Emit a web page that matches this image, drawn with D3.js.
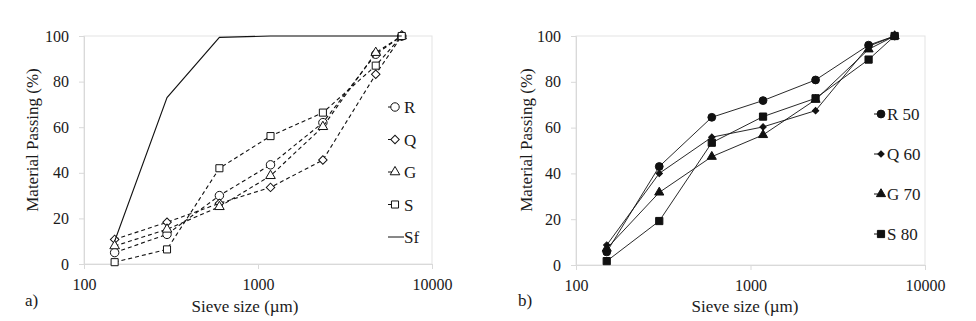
<!DOCTYPE html>
<html>
<head>
<meta charset="utf-8">
<script src="https://cdn.jsdelivr.net/npm/d3@7"></script>
<style>
  body { margin: 0; background: #fff; }
  svg { display: block; }
</style>
</head>
<body>
<div id="chart"></div>
<script>
// sieve sizes (µm)
const sieves = [150, 300, 600, 1180, 2360, 4750, 6700];
const xTicks = [100, 1000, 10000];
const yTicks = [0, 20, 40, 60, 80, 100];

// panel a) - raw materials
const seriesA = ["R", "Q", "G", "S", "Sf"];
const valuesA = [
  [5, 13, 30, 43.5, 62, 92, 100],
  [10.8, 18.3, 26.6, 33.6, 45.6, 83.2, 100],
  [7.9, 15.2, 25.1, 38.7, 60.2, 92.7, 100],
  [0.8, 6.4, 42, 56.1, 66.4, 87, 100],
  [10, 73, 99.4, 100, 100, 100, 100]
];
const markersA = ["circle", "diamond", "triangle", "square", "none"];

// panel b) - mixes
const seriesB = ["R 50", "Q 60", "G 70", "S 80"];
const valuesB = [
  [5.7, 43, 64.5, 71.8, 80.8, 96, 100],
  [8.7, 40, 55.8, 60.3, 67.4, 95.5, 100],
  [7.2, 31.7, 47.3, 56.8, 72.2, 94.2, 100],
  [1.7, 19.2, 53.4, 64.8, 72.8, 89.7, 100]
];
const markersB = ["circle", "diamond", "triangle", "square"];

const W = 976, H = 321;
const FONT = "Liberation Serif, DejaVu Serif, serif";
const INK = "#1a1a1a";
const svg = d3.select("#chart").append("svg")
  .attr("width", W).attr("height", H)
  .attr("font-family", FONT);

function shape(type, filled) {
  const g = d3.symbol();
  if (type === "circle") return { d: g.type(d3.symbolCircle).size(filled ? 48 : 56)(), rot: 0 };
  if (type === "square") return { d: g.type(d3.symbolSquare).size(filled ? 52 : 50)(), rot: 0 };
  if (type === "triangle") return { d: g.type(d3.symbolTriangle).size(filled ? 36 : 40)(), rot: 0 };
  if (type === "diamond") return { d: g.type(d3.symbolSquare).size(filled ? 20 : 36)(), rot: 45 };
  return null;
}

function panel(opt) {
  const x = d3.scaleLog().domain([100, 10000]).range([opt.left, opt.right]);
  const y = d3.scaleLinear().domain([0, 100]).range([opt.bottom, opt.top]);
  const g = svg.append("g");

  // plot area frame
  g.append("rect")
    .attr("x", opt.left).attr("y", opt.top)
    .attr("width", opt.right - opt.left).attr("height", opt.bottom - opt.top)
    .attr("fill", "none").attr("stroke", "#e3e3e3").attr("stroke-width", 1);

  // y axis
  const ya = g.append("g")
    .attr("transform", `translate(${opt.left},0)`)
    .call(d3.axisLeft(y).tickValues(yTicks).tickSize(5).tickPadding(10));
  ya.attr("font-family", FONT).attr("font-size", 16);
  ya.select(".domain").attr("stroke", "#d9d9d9");
  ya.selectAll(".tick line").attr("stroke", "#d9d9d9");
  ya.selectAll(".tick text").attr("fill", INK);

  // x axis
  const xa = g.append("g")
    .attr("transform", `translate(0,${opt.bottom})`)
    .call(d3.axisBottom(x).tickValues(xTicks).tickFormat(d3.format("d")).tickSize(5).tickPadding(10));
  xa.attr("font-family", FONT).attr("font-size", 16);
  xa.select(".domain").attr("stroke", "#d9d9d9");
  xa.selectAll(".tick line").attr("stroke", "#d9d9d9");
  xa.selectAll(".tick text").attr("fill", INK);

  g.append("text")
    .attr("transform", `translate(${opt.ytitleX},140) rotate(-90)`)
    .attr("text-anchor", "middle").attr("font-size", 17).attr("fill", INK)
    .text("Material Passing (%)");

  g.append("text")
    .attr("x", opt.xtitleX).attr("y", 312)
    .attr("text-anchor", "middle").attr("font-size", 17).attr("fill", INK)
    .text("Sieve size (µm)");

  g.append("text")
    .attr("x", opt.tagX).attr("y", 306)
    .attr("font-size", 17).attr("fill", INK)
    .text(opt.tag);

  const line = d3.line().x((d, i) => x(sieves[i])).y(d => y(d));

  opt.values.forEach((vals, k) => {
    const dashed = opt.dashed && opt.markers[k] !== "none";
    g.append("path")
      .datum(vals)
      .attr("d", line)
      .attr("fill", "none")
      .attr("stroke", "#111")
      .attr("stroke-width", opt.filled ? 0.9 : 1.1)
      .attr("stroke-dasharray", dashed ? "4,3" : null);

    const s = shape(opt.markers[k], opt.filled);
    if (s) {
      g.append("g").selectAll("path")
        .data(vals)
        .join("path")
        .attr("d", s.d)
        .attr("transform", (d, i) => `translate(${x(sieves[i])},${y(d)}) rotate(${s.rot})`)
        .attr("fill", opt.filled ? "#111" : "#fff")
        .attr("stroke", "#111")
        .attr("stroke-width", 1);
    }

    // legend
    const ly = opt.legY + k * opt.legStep;
    g.append("line")
      .attr("x1", opt.legX - 7).attr("x2", s ? opt.legX : opt.legX + 9)
      .attr("y1", ly).attr("y2", ly)
      .attr("stroke", "#111").attr("stroke-width", 1);
    if (s) {
      g.append("path")
        .attr("d", s.d)
        .attr("transform", `translate(${opt.legX},${ly}) rotate(${s.rot})`)
        .attr("fill", opt.filled ? "#111" : "#fff")
        .attr("stroke", "#111").attr("stroke-width", 1);
    }
    g.append("text")
      .attr("x", opt.legX + (s ? opt.legGap : 9)).attr("y", ly + 6)
      .attr("font-size", 17).attr("fill", INK)
      .text(opt.names[k]);
  });
}

panel({
  left: 84, right: 432, top: 36, bottom: 264,
  ytitleX: 38, xtitleX: 245, tagX: 25, tag: "a)",
  names: seriesA, values: valuesA, markers: markersA,
  filled: false, dashed: true,
  legX: 395, legY: 107, legStep: 32.5, legGap: 9
});

panel({
  left: 576, right: 925, top: 36, bottom: 265,
  ytitleX: 532, xtitleX: 745, tagX: 518, tag: "b)",
  names: seriesB, values: valuesB, markers: markersB,
  filled: true, dashed: false,
  legX: 881, legY: 114, legStep: 40, legGap: 6
});
</script>
</body>
</html>
